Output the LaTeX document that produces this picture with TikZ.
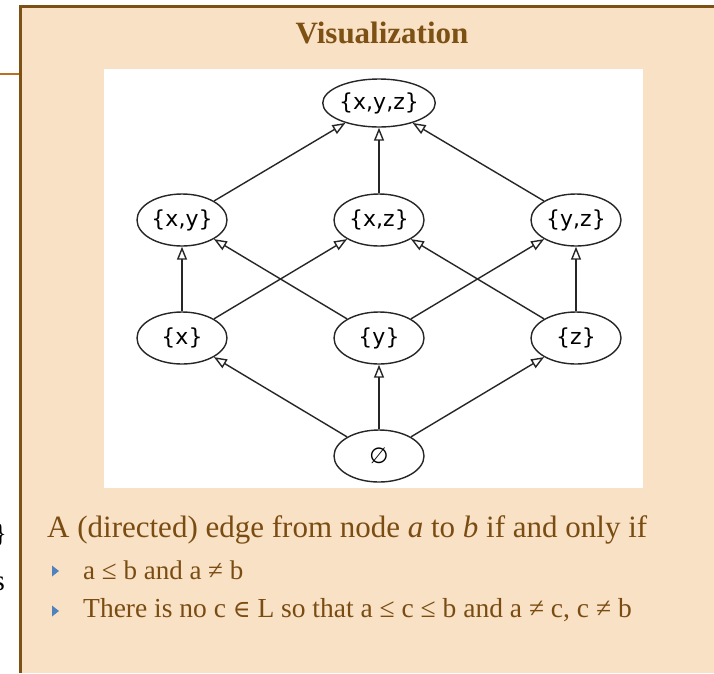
\documentclass[tikz,border=0pt]{standalone}
\usepackage{fontspec}
\setmainfont{Liberation Serif}
\newfontfamily\setfont{DejaVu Sans}
\newfontfamily\symfont{DejaVu Serif}
\usepackage{tikz}
\usetikzlibrary{arrows.meta,shapes.geometric}
\definecolor{slidebg}{RGB}{248,225,197}
\definecolor{framebrown}{RGB}{125,80,20}
\definecolor{textbrown}{RGB}{122,76,18}
\definecolor{bulletblue}{RGB}{80,130,190}
\definecolor{lineorange}{RGB}{190,110,30}

\begin{document}
\begin{tikzpicture}[x=1pt,y=-1pt,
    setnode/.style={ellipse,draw=black!85,line width=1.4pt,fill=white,
      minimum width=90pt,minimum height=52pt,inner sep=0pt,
      font=\setfont\fontsize{22}{24}\selectfont},
    cover/.style={-{Triangle[open,length=13pt,width=10pt]},line width=1.4pt,black!85},
    slidetext/.style={anchor=base west,inner sep=0pt,text=textbrown}]
    \useasboundingbox (0,0) rectangle (714,673);
    % slide behind the box
    \draw[lineorange,line width=1.5pt] (0,74) -- (19,74);
    \node[anchor=base east,inner sep=0pt,font=\fontsize{27}{30}\selectfont] (brace) at (7,542) {\}};
    \node[anchor=base east,inner sep=0pt,font=\fontsize{29}{32}\selectfont] (cut) at (5,590) {s};
    % the box
    \fill[slidebg] (20,6) rectangle (714,673);
    \draw[framebrown,line width=3pt] (20,673) -- (20,6) -- (714,6);
    \node[text=framebrown,font=\bfseries\fontsize{31}{34}\selectfont] (title) at (382,33) {Visualization};
    \fill[white] (104,69) rectangle (643,488);
    % the lattice
    \node[setnode,minimum width=100pt,minimum height=48pt] (top) at (379,103) {\{x,y,z\}};
    \node[setnode] (xy) at (182,220) {\{x,y\}};
    \node[setnode] (xz) at (379,220) {\{x,z\}};
    \node[setnode] (yz) at (576,220) {\{y,z\}};
    \node[setnode] (sx) at (182,338) {\{x\}};
    \node[setnode] (sy) at (379,338) {\{y\}};
    \node[setnode] (sz) at (576,338) {\{z\}};
    \node[setnode] (bot) at (379,456) {∅};
    \foreach \a/\b in {bot/sx,bot/sy,bot/sz,sx/xy,sx/xz,sy/xy,sy/yz,sz/xz,sz/yz,xy/top,xz/top,yz/top}
      \draw[cover] (\a) -- (\b);
    % the rule
    \node[slidetext,font=\fontsize{31}{34}\selectfont] (rule) at (47,537)
      {A (directed) edge from node \textit{a} to \textit{b} if and only if};
    \foreach \yb in {571,611}
      \fill[bulletblue] (52,\yb-5.5) -- (59,\yb) -- (52,\yb+5.5) -- cycle;
    \node[slidetext,font=\fontsize{27}{30}\selectfont] (first) at (83,579) {a ≤ b and a ≠ b};
    \node[slidetext,font=\fontsize{27.5}{30}\selectfont] (second) at (83,617)
      {There is no c {\symfont\fontsize{24}{30}\selectfont ∈} L so that a ≤ c ≤ b and a ≠ c, c ≠ b};
\end{tikzpicture}
\end{document}
